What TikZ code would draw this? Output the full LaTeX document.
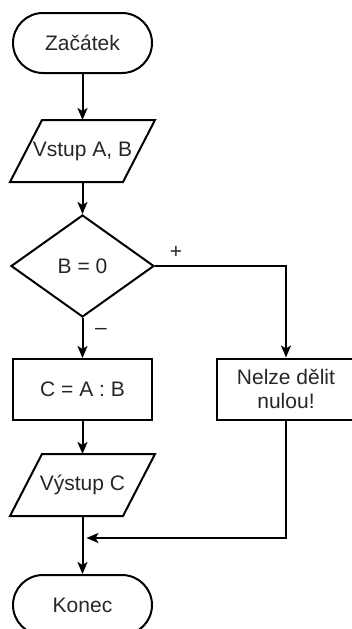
\documentclass[tikz,border=0pt]{standalone}
\usepackage{fontspec}
\setmainfont{Liberation Sans}
\usetikzlibrary{shapes.geometric, arrows.meta}

\begin{document}
\begin{tikzpicture}[x=1pt, y=-1pt, line width=2pt,
    font=\fontsize{21}{24}\selectfont, text=black!85,
    term/.style={draw, rectangle, rounded corners=30pt, minimum width=139pt, minimum height=60pt},
    io/.style={rectangle, minimum width=111pt, minimum height=60pt, inner sep=0pt},
    proc/.style={draw, rectangle, minimum height=61pt},
    cond/.style={draw, diamond, minimum width=143pt, minimum height=102pt, inner sep=0pt},
    arr/.style={-{Stealth[length=12pt, width=10pt, inset=3pt]}}]
%\draw [help lines, step=10] (0,0) grid (351,629);
    \useasboundingbox (0,0) rectangle (351,629);

    \node[term] (start) at (82.5,43) {Začátek};
    \node[io] (in) at (82.5,151) {Vstup A, B};
    \node[cond] (dec) at (82.5,266) {B = 0};
    \node[proc, minimum width=139pt] (calc) at (82.5,389.5) {C = A : B};
    \node[proc, minimum width=138pt, align=center] (err) at (286,389) {Nelze dělit\\nulou!};
    \node[io] (out) at (82.5,485) {Výstup C};
    \node[term] (stop) at (82.5,605) {Konec};
    \coordinate (join) at (82.5,538);

    % slanted input/output boxes
    \foreach \n in {in, out}
        \draw ([xshift=16pt]\n.north west) -- ([xshift=16pt]\n.north east)
            -- ([xshift=-16pt]\n.south east) -- ([xshift=-16pt]\n.south west) -- cycle;

    \draw[arr] (start) -- (in);
    \draw[arr] (in) -- (dec);
    \draw[arr] (dec) -- (calc);
    \draw[arr] (calc) -- (out);
    \draw[arr] (out) -- (stop);
    \draw[arr] (dec.east) -| (err.north);
    \draw[arr, shorten >=4pt] (err.south) |- (join);

    \node (plus) at (176,252) {+};
    \node (minus) at (101,331) {--};
\end{tikzpicture}
\end{document}
